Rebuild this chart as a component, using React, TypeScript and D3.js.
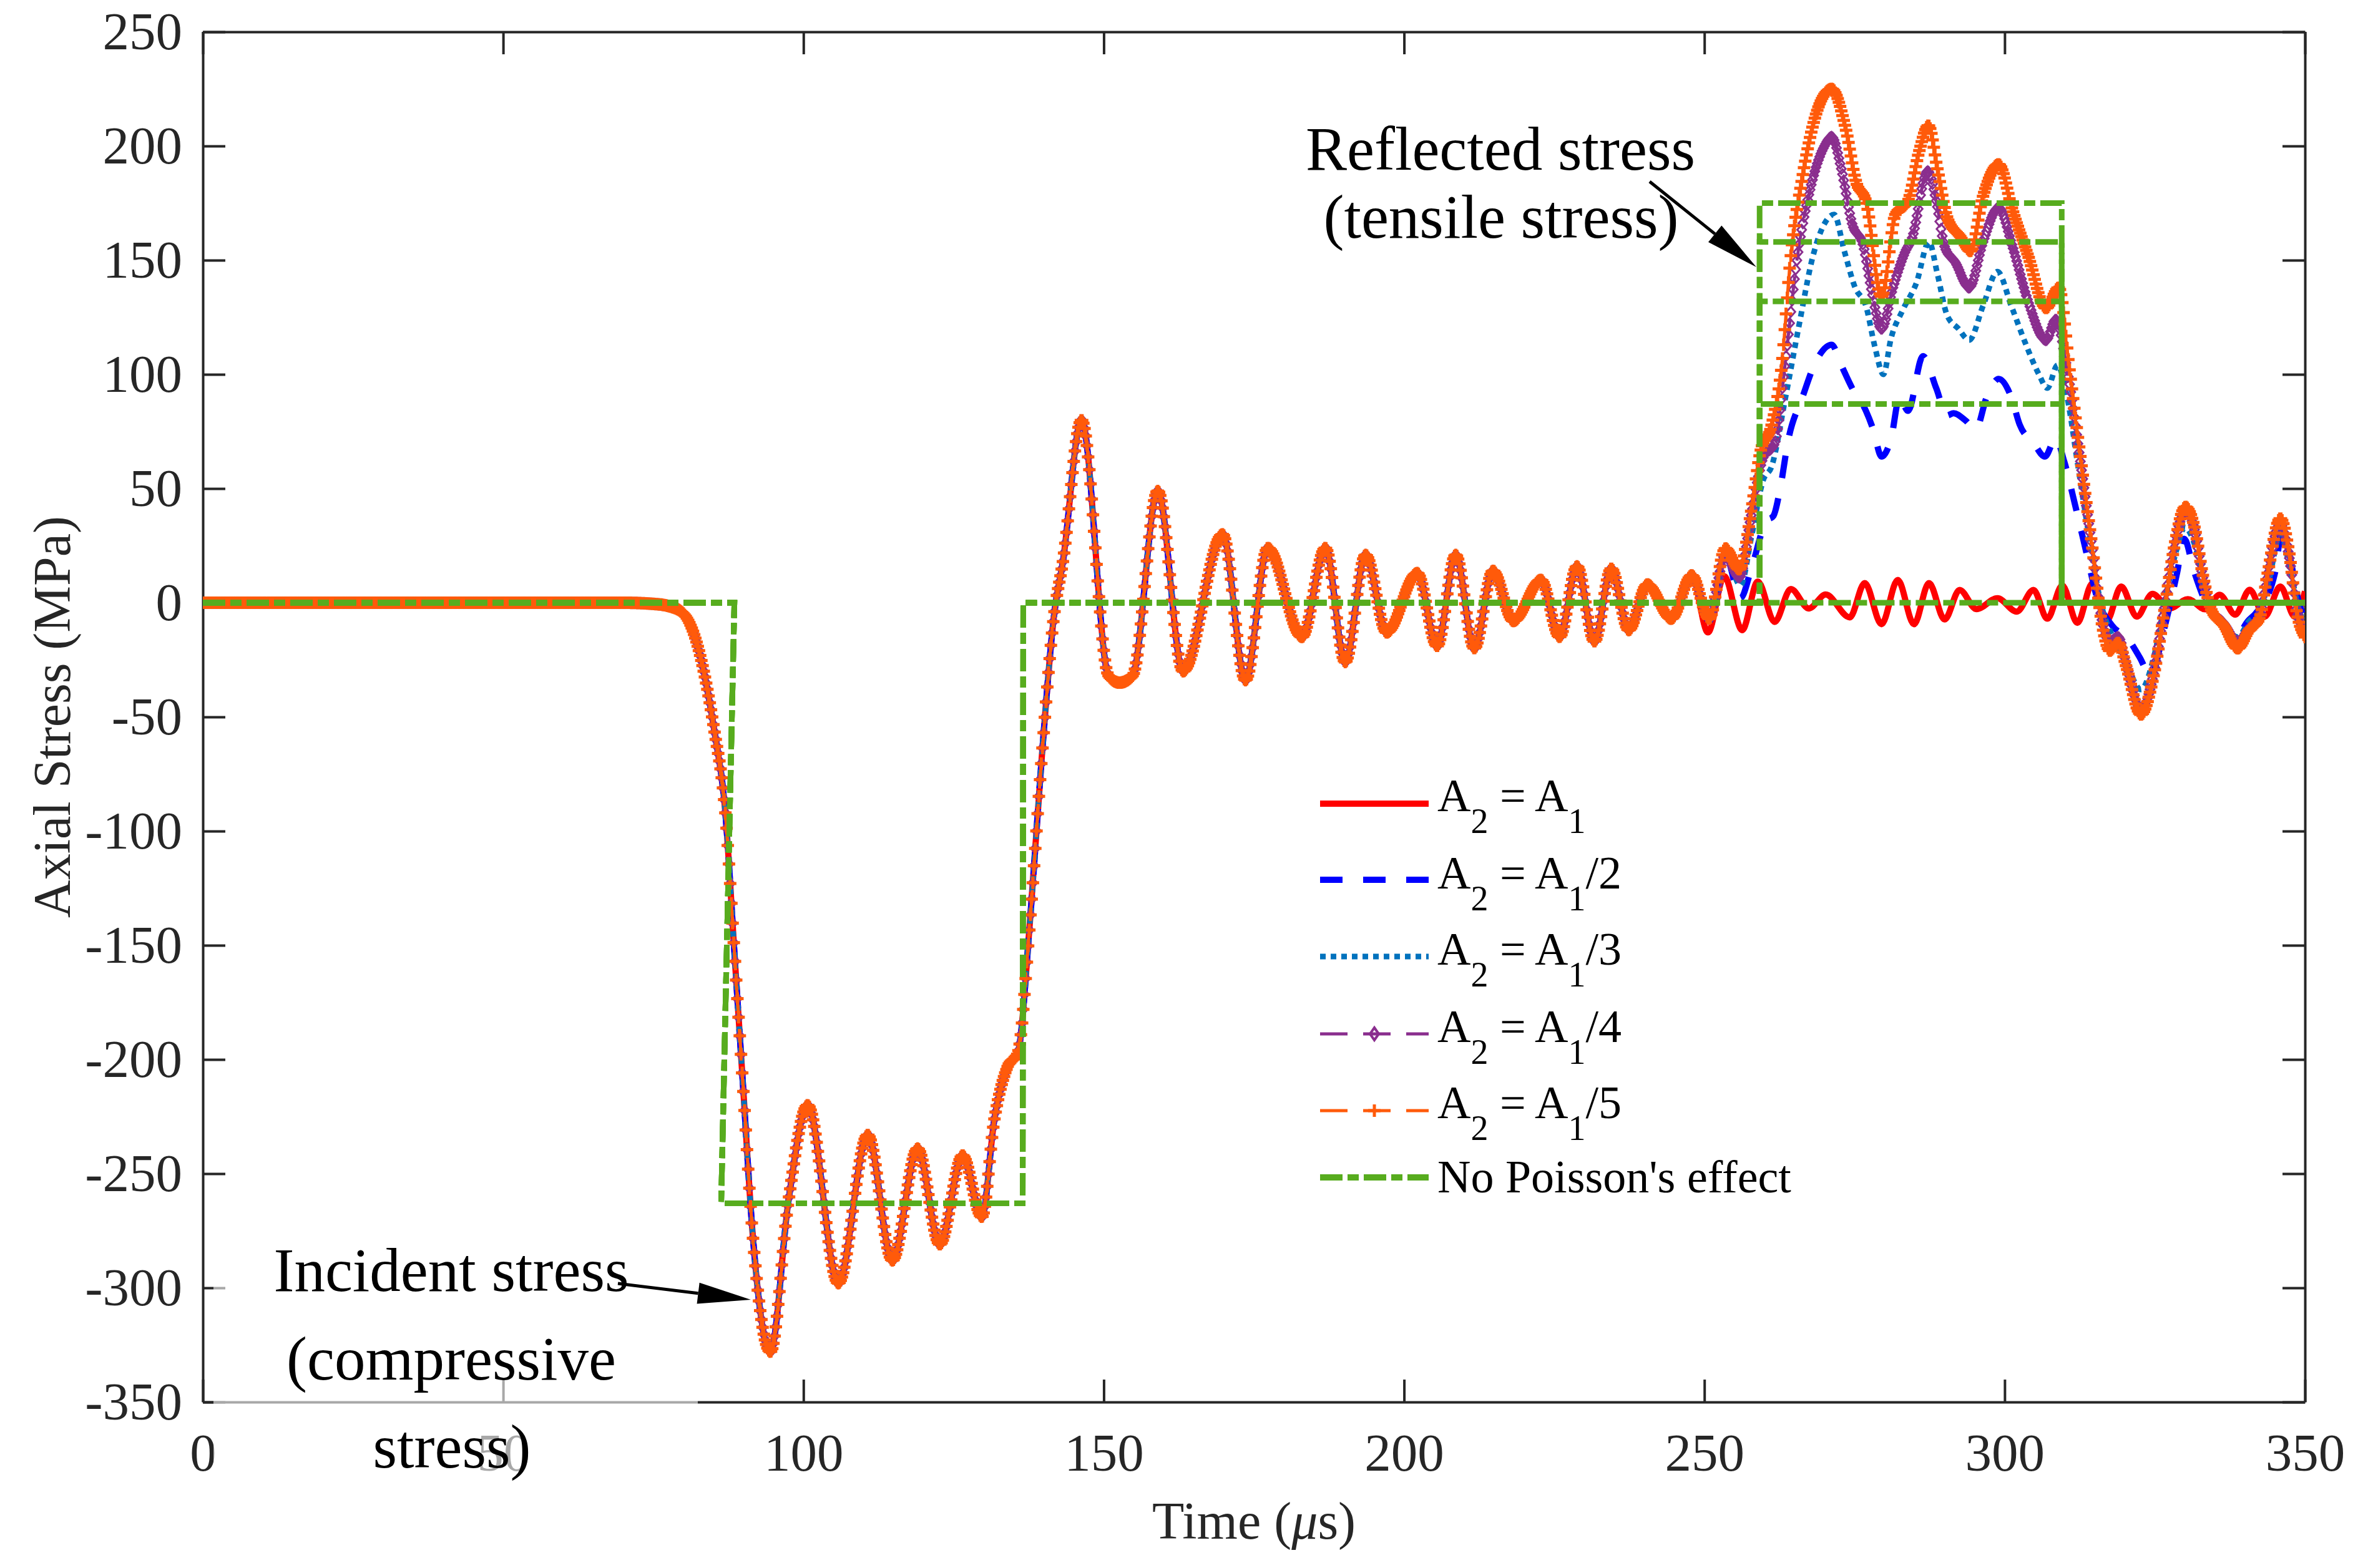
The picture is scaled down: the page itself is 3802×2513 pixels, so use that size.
import * as d3 from 'd3';
import React, { useEffect, useRef } from 'react';

// Canvas + plot box (pixels of the reference)
const W = 3802;
const H = 2513;
const FONT = "'Liberation Serif', 'Times New Roman', serif";
const AXIS_COLOR = "#262626";

// Axis ticks
const xTicks = [0, 50, 100, 150, 200, 250, 300, 350];
const yTicks = [250, 200, 150, 100, 50, 0, -50, -100, -150, -200, -250, -300, -350];

// Shared part of every curve (incident pulse + ringing), [time µs, stress MPa]
const commonPart: [number, number][] = [
  [0, 0], [40, 0], [70, 0], [75, -0.5], [77.6, -1.5], [80.1, -5], [82.6, -21], [85.1, -55],
  [87, -92], [88.5, -153], [90, -214], [91.5, -275], [94.5, -328], [97.5, -262], [100.7, -220],
  [105.8, -298], [110.7, -233], [114.8, -288], [119.0, -239], [122.7, -281], [126.5, -242],
  [129.7, -269], [131.8, -226], [134.0, -203], [135.7, -197], [137.7, -140], [139.7, -67],
  [141.7, -6], [143.2, 18], [146.3, 80], [150.8, -32], [152.6, -35], [154.8, -32], [159.0, 49],
  [163.2, -30], [169.8, 30], [173.6, -34], [177.3, 24], [183.0, -15], [186.9, 24], [190.2, -26],
  [193.6, 21], [197.1, -13], [202.2, 13], [205.5, -19], [208.6, 21], [211.7, -20], [214.8, 14],
  [218.2, -8], [222.8, 10], [225.9, -15], [228.8, 16], [231.7, -17], [234.5, 15], [237.4, -12],
  [240.5, 8], [244.5, -7], [247.9, 12],
];

// Reflected part, per area ratio
const tailA1: [number, number][] = [
  [250.6, -13], [253.3, 11.6], [256.3, -12], [258.9, 9.3], [261.7, -8.4], [264.4, 6], [267.4, -2.5],
  [270.2, 3.6], [274.2, -6.4], [276.7, 8.6], [279.5, -9.4], [282.2, 10], [284.9, -9.4], [287.4, 8.6],
  [290, -7.3], [292.5, 5.6], [295.3, -2.8], [298.8, 2], [302, -3.9], [304.8, 5.6], [307.1, -7],
  [309.6, 7.6], [312.1, -8.8], [314.6, 8.5], [317, -7.9], [319.4, 7.1], [322, -6.1], [324.6, 3.9],
  [327.5, -2.5], [330.5, 1.6], [333.4, -2.9], [335.8, 3.5], [338.4, -5.2], [340.8, 5.7],
  [343.3, -6.1], [345.9, 7.1], [348.3, -6.1], [350, 5],
];
const tailA1by2: [number, number][] = [
  [250.8, -8], [253.5, 21], [256, 2], [257.9, 15.7], [260.3, 35.7], [261.5, 38], [262.6, 49.7],
  [264, 71.7], [266.3, 89.8], [268.6, 105.8], [271.2, 113], [272.8, 104], [274.6, 94], [276.9, 84],
  [278.1, 76], [279.5, 64], [281.1, 72], [282.5, 90], [283.9, 84], [286.4, 108], [288.6, 94],
  [290.4, 82], [291.5, 83], [293.4, 80], [295.2, 76], [297, 90], [299, 98], [301.1, 90], [302.5, 78],
  [304.8, 70], [306.7, 64], [308.5, 72], [309.9, 62], [311.8, 42], [313.6, 22], [315.4, 2],
  [317.9, -10], [320.6, -16], [322.5, -24], [324.3, -32], [326.5, -12], [328.7, 13], [329.9, 28],
  [331.5, 14], [333.5, 0], [336, -8], [338.7, -14], [340.5, -8], [342, -4], [345, 13], [346.2, 32],
  [347.5, 20], [349, 0], [350, -7],
];
const tailA1by3: [number, number][] = [
  [250.8, -8], [253.5, 21], [256, 7.6], [257.9, 29.7], [259.8, 53.7], [261.2, 59.7], [263.5, 89.8],
  [265.8, 122], [268.1, 152], [270, 166], [271.6, 170], [273.3, 154], [275.1, 138], [276.9, 130],
  [278.4, 112], [279.8, 100], [281.1, 116], [283, 128], [285.3, 140], [287.4, 158], [288.8, 144],
  [290.4, 126], [292.3, 120], [294.1, 115], [296.4, 130], [298.8, 145], [301.1, 130], [303.4, 114],
  [305.7, 100], [307.1, 94], [308.8, 104], [310.4, 90], [312.2, 60], [314, 30], [316, 0], [318, -15],
  [320, -25], [322.7, -38], [325, -22], [327, 5], [328.5, 22], [330, 33], [331.7, 25], [333.5, 5],
  [336, -8], [338.8, -15], [340.7, -8], [342.4, -4], [344, 10], [345.9, 30], [347.5, 15],
  [349, -3], [350, -10],
];
const tailA1by4: [number, number][] = [
  [250.8, -7], [253.5, 21], [255.8, 11], [257.9, 39.7], [259.8, 63.7], [261.7, 69.8], [263.5, 105.8],
  [265.3, 148], [267.7, 182], [270, 200], [271.2, 204], [272.8, 190], [274.6, 166], [276.5, 156],
  [277.9, 136], [279.5, 120], [281.4, 138], [283.5, 154], [284.5, 159], [287.2, 189], [288.6, 176],
  [290, 156], [291.8, 149], [294.1, 138], [296.4, 158], [299, 173], [301.3, 156], [303.9, 132],
  [306.9, 115], [308.5, 124], [310.4, 102], [312.7, 60], [314.5, 25], [316.4, -10], [317.5, -17],
  [318.9, -15], [320.2, -26], [322.7, -47], [324.8, -31], [326.5, -4], [328.2, 24], [330.1, 40],
  [331.7, 31], [333, 11], [334.4, -3], [336.5, -9], [338.8, -17], [340.7, -11], [342.4, -6],
  [343.8, 13], [345.9, 35], [347.3, 21], [348.7, -4], [350, -13],
];
const tailA1by5: [number, number][] = [
  [250.8, -7], [253.5, 23.8], [255.8, 14.6], [257.9, 41.7], [259.3, 65.7], [261.2, 77.8],
  [262.8, 101.8], [264.4, 152], [266.3, 186], [268.6, 214], [271.2, 225], [273.5, 208],
  [275.3, 184], [276.9, 176], [279.5, 134], [281.8, 170], [283.9, 176], [285.8, 198], [287.3, 209],
  [288.8, 190], [290.4, 169], [292.7, 160], [294.3, 154], [296.4, 178], [299.0, 192], [301.3, 172],
  [303.9, 152], [306.9, 129], [309, 138], [310.8, 102], [312.7, 62], [314.5, 26], [316.4, -12],
  [317.5, -21], [318.9, -17.5], [320.2, -27.5], [322.7, -49], [324.8, -32], [326.5, -5],
  [328.2, 24], [330.1, 42], [331.7, 32], [333, 12], [334.4, -3], [336.5, -10], [338.8, -20],
  [340.7, -12], [342.4, -7], [343.8, 13], [345.9, 37], [347.3, 23], [348.7, -5], [350, -15],
];

// "No Poisson's effect" square pulses
const incidentStep: [number, number][] = [
  [0, 0], [88.5, 0], [86.3, -263], [136.5, -263], [136.6, 0], [259.2, 0],
];
const reflectedStart = 259.2;
const reflectedEnd = 309.5;
const reflectedLevels = [0, 87, 132, 158, 175];

const legendSuffix = ["", "/2", "/3", "/4", "/5"];

const series = [
  { tail: tailA1, color: "#FF0000", width: 10, dash: null as string | null, marker: null as string | null },
  { tail: tailA1by2, color: "#0000FF", width: 10, dash: "36,33", marker: null },
  { tail: tailA1by3, color: "#0072BD", width: 9, dash: "9,8", marker: null },
  { tail: tailA1by4, color: "#8A2E8E", width: 5, dash: "44,25", marker: "diamond" },
  { tail: tailA1by5, color: "#FF5A0A", width: 5, dash: "44,25", marker: "plus" },
];
const GREEN = "#57AC1E";

const App: React.FC = () => {
  const ref = useRef<SVGSVGElement>(null);

  useEffect(() => {
    if (!ref.current) return;
    const svg = d3.select(ref.current);
    svg.selectAll("*").remove();

    const x = d3.scaleLinear().domain([0, 350]).range([325, 3693]);
    const y = d3.scaleLinear().domain([-350, 250]).range([2247, 51]);

    svg.append("rect").attr("width", W).attr("height", H).attr("fill", "#fff");

    svg.append("defs").append("clipPath").attr("id", "plot-clip")
      .append("rect").attr("x", 325).attr("y", 51).attr("width", 3368).attr("height", 2196);

    // Axes (box, inward ticks)
    const styleAxis = (g: d3.Selection<SVGGElement, unknown, null, undefined>) => {
      g.select(".domain").attr("stroke", AXIS_COLOR).attr("stroke-width", 4);
      g.selectAll(".tick line").attr("stroke", AXIS_COLOR).attr("stroke-width", 4);
      g.selectAll(".tick text").attr("fill", AXIS_COLOR).style("font-family", FONT).style("font-size", "85px");
    };
    styleAxis(svg.append("g").attr("transform", `translate(0,${y(-350)})`)
      .call(d3.axisBottom(x).tickValues(xTicks).tickSize(-36).tickSizeOuter(0).tickPadding(50).tickFormat(d => String(d))));
    styleAxis(svg.append("g").attr("transform", `translate(${x(0)},0)`)
      .call(d3.axisLeft(y).tickValues(yTicks).tickSize(-36).tickSizeOuter(0).tickPadding(33).tickFormat(d => String(d))));
    styleAxis(svg.append("g").attr("transform", `translate(0,${y(250)})`)
      .call(d3.axisTop(x).tickValues(xTicks).tickSize(-36).tickSizeOuter(0).tickFormat(() => "")));
    styleAxis(svg.append("g").attr("transform", `translate(${x(350)},0)`)
      .call(d3.axisRight(y).tickValues(yTicks).tickSize(-36).tickSizeOuter(0).tickFormat(() => "")));

    // Axis titles
    svg.append("text").attr("x", 2009).attr("y", 2466).attr("text-anchor", "middle")
      .style("font-family", FONT).style("font-size", "84px").attr("fill", AXIS_COLOR)
      .html('Time (<tspan font-style="italic">μ</tspan>s)');
    svg.append("text").attr("transform", "translate(112,1149) rotate(-90)").attr("text-anchor", "middle")
      .style("font-family", FONT).style("font-size", "84px").attr("fill", AXIS_COLOR)
      .text("Axial Stress (MPa)");

    const plot = svg.append("g").attr("clip-path", "url(#plot-clip)");
    const line = d3.line<[number, number]>().x(d => x(d[0])).y(d => y(d[1])).curve(d3.curveMonotoneX);

    // marker positions every 0.2 µs along the drawn curve
    const markerTimes = d3.range(0, 350.0001, 0.2);
    const markerPoints = (node: SVGPathElement) => {
      const total = node.getTotalLength();
      const pts: { x: number; y: number }[] = [];
      for (let l = 0; l <= total; l += 2) pts.push(node.getPointAtLength(l));
      pts.push(node.getPointAtLength(total));
      const out: [number, number][] = [];
      let i = 0;
      for (const t of markerTimes) {
        const tx = x(t);
        while (i < pts.length - 2 && pts[i + 1].x < tx) i++;
        const a = pts[i], b = pts[i + 1];
        const f = b.x === a.x ? 0 : Math.max(0, Math.min(1, (tx - a.x) / (b.x - a.x)));
        out.push([tx, a.y + f * (b.y - a.y)]);
      }
      return out;
    };

    series.forEach(s => {
      const path = plot.append("path")
        .attr("d", line([...commonPart, ...s.tail]))
        .attr("fill", "none")
        .attr("stroke", s.color)
        .attr("stroke-width", s.width)
        .attr("stroke-linejoin", "round")
        .attr("stroke-dasharray", s.dash);
      if (s.marker) {
        const pts = markerPoints(path.node() as SVGPathElement);
        const d = s.marker === "plus"
          ? pts.map(([px, py]) => `M${px - 10},${py}h20M${px},${py - 10}v20`).join("")
          : pts.map(([px, py]) => `M${px},${py - 8}l7,8l-7,8l-7,-8z`).join("");
        plot.append("path").attr("d", d).attr("fill", "none")
          .attr("stroke", s.color).attr("stroke-width", s.marker === "plus" ? 5 : 3);
      }
    });

    // No Poisson's effect steps
    const stepLine = d3.line<[number, number]>().x(d => x(d[0])).y(d => y(d[1]));
    reflectedLevels.forEach(level => {
      const pts: [number, number][] = [
        ...incidentStep,
        [reflectedStart, level], [reflectedEnd, level], [reflectedEnd, 0], [350, 0],
      ];
      plot.append("path").attr("d", stepLine(pts)).attr("fill", "none")
        .attr("stroke", GREEN).attr("stroke-width", 9).attr("stroke-dasharray", "36,8,18,8");
    });

    // Legend
    const legendY = [1288, 1410, 1533, 1657, 1780, 1887];
    const legendBase = [1300, 1424, 1546, 1670, 1792, 1911];
    series.forEach((s, i) => {
      svg.append("line").attr("x1", 2115).attr("x2", 2289).attr("y1", legendY[i]).attr("y2", legendY[i])
        .attr("stroke", s.color).attr("stroke-width", s.width).attr("stroke-dasharray", s.dash);
      if (s.marker === "plus") {
        svg.append("path").attr("d", `M2192,${legendY[i]}h20M2202,${legendY[i] - 10}v20`)
          .attr("stroke", s.color).attr("stroke-width", 5);
      } else if (s.marker === "diamond") {
        svg.append("path").attr("d", `M2202,${legendY[i] - 10}l7,10l-7,10l-7,-10z`)
          .attr("fill", "none").attr("stroke", s.color).attr("stroke-width", 4);
      }
      svg.append("text").attr("x", 2303).attr("y", legendBase[i])
        .style("font-family", FONT).style("font-size", "74px").attr("fill", "#000")
        .html(`A<tspan dy="35" font-size="56">2</tspan><tspan dy="-35"> = A</tspan><tspan dy="35" font-size="56">1</tspan><tspan dy="-35">${legendSuffix[i]}</tspan>`);
    });
    svg.append("line").attr("x1", 2115).attr("x2", 2289).attr("y1", legendY[5]).attr("y2", legendY[5])
      .attr("stroke", GREEN).attr("stroke-width", 10).attr("stroke-dasharray", "36,8,18,8");
    svg.append("text").attr("x", 2303).attr("y", legendBase[5])
      .style("font-family", FONT).style("font-size", "74px").attr("fill", "#000")
      .text("No Poisson's effect");

    // Annotations
    const arrow = (x1: number, y1: number, x2: number, y2: number) => {
      const dx = x2 - x1, dy = y2 - y1;
      const len = Math.hypot(dx, dy);
      const ux = dx / len, uy = dy / len;
      const head = 85, half = 17;
      const bx = x2 - ux * head, by = y2 - uy * head;
      svg.append("line").attr("x1", x1).attr("y1", y1).attr("x2", bx).attr("y2", by)
        .attr("stroke", "#000").attr("stroke-width", 5);
      svg.append("path")
        .attr("d", `M${x2},${y2}L${bx - uy * half},${by + ux * half}L${bx + uy * half},${by - ux * half}Z`)
        .attr("fill", "#000");
    };

    // translucent text box behind the incident-stress note
    svg.append("rect").attr("x", 342).attr("y", 2050).attr("width", 776).attr("height", 330)
      .attr("fill", "#fff").attr("opacity", 0.6);

    const note = (txt: string, cx: number, by: number) =>
      svg.append("text").attr("x", cx).attr("y", by).attr("text-anchor", "middle")
        .style("font-family", FONT).style("font-size", "99px").attr("fill", "#000").text(txt);

    note("Reflected stress", 2404, 272);
    note("(tensile stress)", 2405, 381);
    arrow(2643, 291, 2814, 428);

    note("Incident stress", 723, 2069);
    note("(compressive", 723, 2211);
    note("stress)", 724, 2352);
    arrow(990, 2057, 1203, 2083);
  }, []);

  return (
    <svg
      ref={ref}
      width={W}
      height={H}
      style={{ position: "absolute", left: 0, top: 0, display: "block" }}
    />
  );
};

export default App;
